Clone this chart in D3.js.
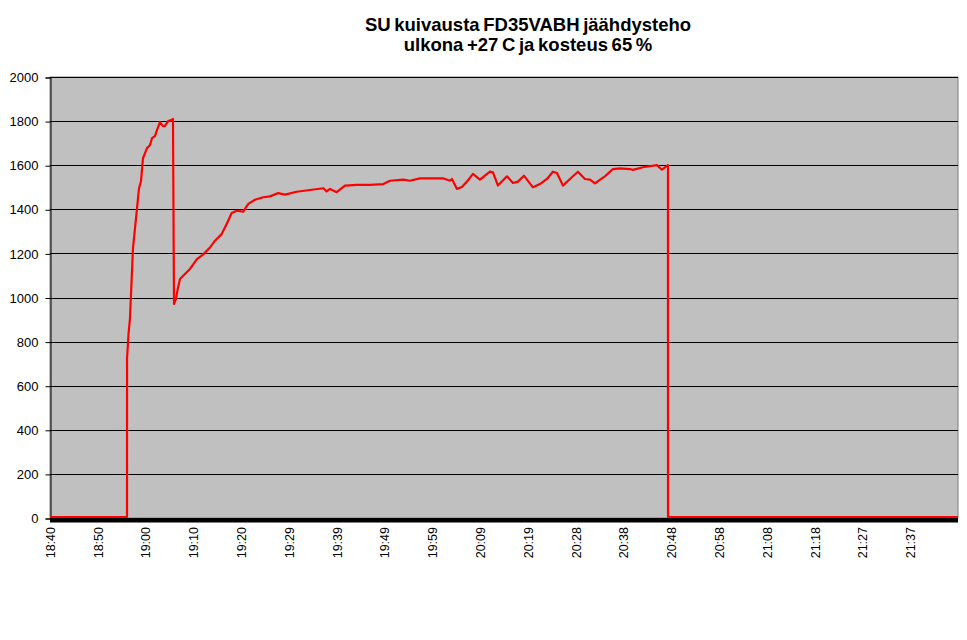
<!DOCTYPE html>
<html>
<head>
<meta charset="utf-8">
<script src="https://cdn.jsdelivr.net/npm/d3@7"></script>
<style>
  body { margin: 0; background: #fff; }
  svg text { font-family: "Liberation Sans", Arial, sans-serif; }
</style>
</head>
<body>
<svg id="chart" width="967" height="640"></svg>
<script>
// ---- data ----
const titleLines = ["SU kuivausta FD35VABH jäähdysteho", "ulkona +27 C ja kosteus 65 %"];
const xTickLabels = ["18:40","18:50","19:00","19:10","19:20","19:29","19:39","19:49","19:59","20:09",
                     "20:19","20:28","20:38","20:48","20:58","21:08","21:18","21:27","21:37"];
const yTicks = [0,200,400,600,800,1000,1200,1400,1600,1800,2000];
// minutes after 18:40
const minutes = [0,15.86,15.87,16.17,16.47,17.09,17.92,18.33,18.74,19.15,19.98,20.59,21.00,21.62,22.03,22.65,23.27,23.68,24.30,24.92,25.33,
  25.54,25.95,26.36,26.77,27.80,28.83,30.27,31.51,32.95,33.98,35.36,36.39,37.42,38.45,39.81,40.84,42.22,43.92,45.30,47.01,48.39,
  50.80,53.54,56.28,56.98,57.66,59.04,60.75,63.16,65.90,68.64,70.02,72.76,74.13,76.19,80.93,82.37,82.78,83.81,84.84,85.87,87.11,
  88.55,90.61,91.23,92.26,94.11,95.35,96.38,97.61,99.46,100.91,102.35,103.58,104.41,105.64,107.08,108.73,110.17,111.20,112.23,
  113.67,114.29,115.94,117.38,119.44,120.06,122.12,125.00,126.03,127.27,127.28,187];
const power = [0,0,720,830,900,1218,1400,1490,1523,1627,1673,1686,1718,1727,1755,1791,1773,1773,1795,1800,1805,
  966,989,1040,1079,1102,1125,1170,1190,1222,1253,1283,1329,1379,1389,1385,1420,1439,1450,1454,1469,1462,
  1475,1483,1491,1477,1488,1473,1503,1506,1506,1510,1525,1530,1525,1536,1536,1525,1533,1488,1497,1521,1556,
  1530,1566,1563,1503,1545,1515,1521,1548,1495,1510,1533,1566,1560,1503,1533,1566,1533,1530,1513,
  1536,1545,1578,1581,1578,1574,1586,1596,1575,1596,0,0];
const xSpanMinutes = 187;

// ---- layout ----
const svg = d3.select("#chart");
const pLeft = 50, pRight = 958, pTop = 77, pBottom = 518;

const x = d3.scaleLinear().domain([0, xSpanMinutes]).range([pLeft, pRight]);
const y = d3.scaleLinear().domain([0, 2000]).range([pBottom, pTop]);

// plot background
svg.append("rect").attr("x", pLeft).attr("y", pTop).attr("width", pRight - pLeft).attr("height", pBottom - pTop)
  .attr("fill", "#c0c0c0").attr("stroke", "#808080").attr("stroke-width", 1);

// gridlines
svg.append("g").selectAll("line").data(yTicks.filter(d => d > 0)).join("line")
  .attr("x1", pLeft).attr("x2", pRight)
  .attr("y1", d => Math.round(y(d)) + 0.5).attr("y2", d => Math.round(y(d)) + 0.5)
  .attr("stroke", "#000").attr("stroke-width", 1);

// y axis
const yAxis = d3.axisLeft(y).tickValues(yTicks).tickFormat(d3.format("d")).tickSize(5).tickPadding(7);
const gy = svg.append("g").attr("transform", `translate(${pLeft + 0.5},0.5)`).call(yAxis);
gy.select(".domain").attr("stroke", "#000");
gy.selectAll(".tick line").attr("stroke", "#000");
gy.selectAll("text").attr("font-size", 13).attr("fill", "#000")
  .attr("font-family", '"Liberation Sans", Arial, sans-serif');

// x axis (category-style labels, equally spaced)
const step = xSpanMinutes / 19;
const xTickVals = xTickLabels.map((d, i) => i * step);
const xAxis = d3.axisBottom(x).tickValues(xTickVals).tickFormat((d, i) => xTickLabels[i]).tickSize(0).tickPadding(0);
const gx = svg.append("g").attr("transform", `translate(0,${pBottom})`).call(xAxis);
gx.select(".domain").remove();
gx.selectAll("text")
  .attr("font-size", 12.5).attr("fill", "#000")
  .attr("font-family", '"Liberation Sans", Arial, sans-serif')
  .attr("transform", "rotate(-90)")
  .attr("text-anchor", "end")
  .attr("dy", "0.35em")
  .attr("x", -9).attr("y", 0);

// thick black x-axis line
svg.append("rect").attr("x", pLeft).attr("y", pBottom).attr("width", pRight - pLeft).attr("height", 4.5).attr("fill", "#000");

// series
const pts = minutes.map((m, i) => [m, power[i]]);
const line = d3.line().x(d => x(d[0])).y(d => y(d[1]));
svg.append("path").datum(pts).attr("d", line)
  .attr("fill", "none").attr("stroke", "#ff0000").attr("stroke-width", 2.2)
  .attr("stroke-linejoin", "round").attr("transform", "translate(0,-1)");

// title
svg.append("g").selectAll("text").data(titleLines).join("text")
  .attr("x", 528).attr("y", (d, i) => 31 + i * 20)
  .attr("text-anchor", "middle").attr("font-size", 18.5).attr("font-weight", "bold")
  .attr("word-spacing", -1.5)
  .attr("fill", "#000").text(d => d);
</script>
</body>
</html>
